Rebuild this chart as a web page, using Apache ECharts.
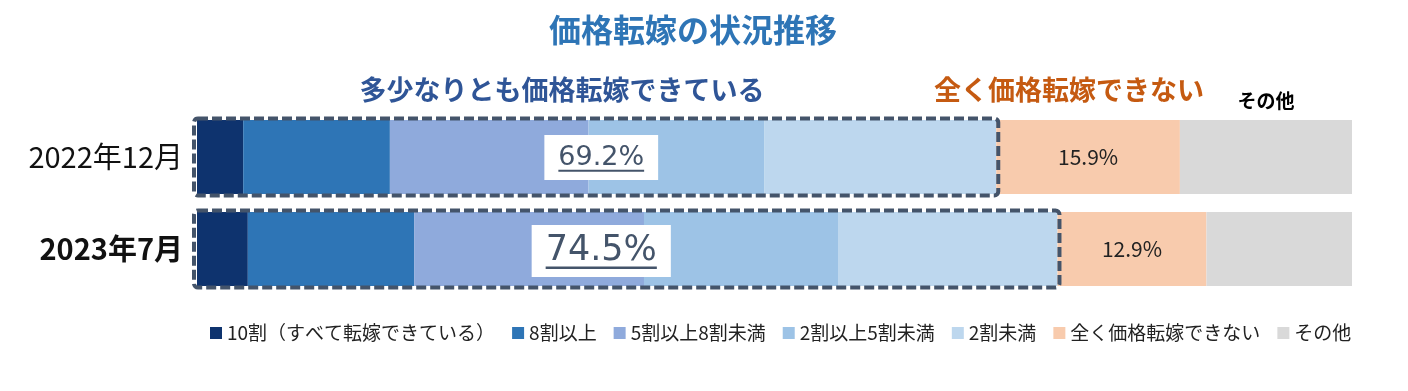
<!DOCTYPE html>
<html><head><meta charset="utf-8">
<script src="https://cdn.jsdelivr.net/npm/echarts@6/dist/echarts.min.js"></script>
<style>html,body{margin:0;padding:0;background:#fff}#c{width:1408px;height:391px}</style>
</head><body><div id="c"></div>
<script>
const categories = ['2022年12月', '2023年7月'];
const seriesNames = ['10割（すべて転嫁できている）', '8割以上', '5割以上8割未満', '2割以上5割未満', '2割未満', '全く価格転嫁できない', 'その他'];
const s10wari = [4.0, 4.4];
const s8over = [12.7, 14.4];
const s5to8 = [17.2, 19.9];
const s2to5 = [15.2, 16.8];
const sUnder2 = [20.1, 19.0];
const sNone = [15.9, 12.9];
const sOther = [14.9, 12.6];
const passedTotals = [69.2, 74.5];

const colors = ['#0e336e', '#2e75b6', '#8faadc', '#9dc3e6', '#bdd7ee', '#f8cbad', '#d9d9d9'];
const FONT = '"Noto Sans CJK JP", "Noto Sans", sans-serif';
const NUMFONT = '"DejaVu Sans", "Noto Sans", sans-serif';
const allData = [s10wari, s8over, s5to8, s2to5, sUnder2, sNone, sOther];

function measure(text, font) {
  if (!measure.ctx) measure.ctx = document.createElement('canvas').getContext('2d');
  measure.ctx.font = font;
  return measure.ctx.measureText(text).width;
}

const chart = echarts.init(document.getElementById('c'), null, { renderer: 'canvas' });

const barSeries = seriesNames.map((name, i) => ({
  name: name,
  type: 'bar',
  stack: 'total',
  barWidth: 74,
  data: allData[i],
  itemStyle: { color: colors[i] },
  emphasis: { disabled: true },
  label: i === 5 ? {
    show: true, position: 'inside', formatter: '{c}%',
    color: '#222', fontSize: 21, fontFamily: FONT
  } : { show: false }
}));

const boxSeries = {
  type: 'custom',
  name: 'box',
  z: 10,
  clip: false,
  silent: true,
  encode: { x: 0, y: 1 },
  data: categories.map((c, i) => [passedTotals[i], i]),
  renderItem: function (params, api) {
    const total = api.value(0);
    const idx = api.value(1);
    const p0 = api.coord([0, idx]);
    const p1 = api.coord([total, idx]);
    const cy = p0[1];
    const boxH = 77;
    const fs = idx === 0 ? 27 : 35;
    const font = 'normal ' + fs + 'px ' + NUMFONT;
    const txt = passedTotals[idx].toFixed(1) + '%';
    const tw = measure(txt, font);
    const lc = api.coord([35, idx])[0];
    const lw = tw + 28, lh = idx === 0 ? 45 : 52;
    const ly = cy + (idx === 0 ? 0.5 : 2);
    const ul = ly + fs * 0.45 + 1;
    return {
      type: 'group',
      children: [
        { type: 'rect', shape: { x: p0[0] - 3, y: cy - boxH / 2, width: p1[0] - p0[0] + 5, height: boxH, r: 4 },
          style: { fill: 'none', stroke: '#44546a', lineWidth: 4, lineDash: [10, 4] } },
        { type: 'rect', shape: { x: lc - lw / 2, y: ly - lh / 2, width: lw, height: lh },
          style: { fill: '#ffffff' } },
        { type: 'text', x: lc, y: ly,
          style: { text: txt, font: font, fill: '#44546a', align: 'center', verticalAlign: 'middle' } },
        { type: 'line', shape: { x1: lc - tw / 2, y1: ul, x2: lc + tw / 2, y2: ul },
          style: { stroke: '#44546a', lineWidth: idx === 0 ? 2 : 2.5 } }
      ]
    };
  }
};

chart.setOption({
  animation: false,
  backgroundColor: '#fff',
  grid: { left: 197, right: 56, top: 111, height: 184 },
  xAxis: { type: 'value', min: 0, max: 100, show: false },
  yAxis: {
    type: 'category', data: categories, inverse: true,
    axisLine: { show: false }, axisTick: { show: false },
    axisLabel: {
      margin: 14,
      formatter: (v, i) => (i === 1 ? '{b|' + v + '}' : '{n|' + v + '}'),
      rich: {
        n: { fontSize: 29, fontFamily: FONT, color: '#111', fontWeight: 'normal' },
        b: { fontSize: 29, fontFamily: FONT, color: '#111', fontWeight: 'bold' }
      }
    }
  },
  legend: {
    data: seriesNames,
    left: 205, top: 317,
    itemWidth: 12, itemHeight: 12, itemGap: 17,
    icon: 'rect',
    selectedMode: false,
    textStyle: { fontSize: 19, fontFamily: FONT, color: '#222', lineHeight: 22 }
  },
  graphic: [
    { type: 'text', x: 693, y: 30, style: { text: '価格転嫁の状況推移', font: 'bold 32px ' + FONT, fill: '#2e75b6', align: 'center', verticalAlign: 'middle' } },
    { type: 'text', x: 562, y: 90, style: { text: '多少なりとも価格転嫁できている', font: 'bold 27px ' + FONT, fill: '#2f5597', align: 'center', verticalAlign: 'middle' } },
    { type: 'text', x: 1069, y: 90, style: { text: '全く価格転嫁できない', font: 'bold 27px ' + FONT, fill: '#c55a11', align: 'center', verticalAlign: 'middle' } },
    { type: 'text', x: 1266, y: 101, style: { text: 'その他', font: 'bold 19px ' + FONT, fill: '#000', align: 'center', verticalAlign: 'middle' } }
  ],
  series: barSeries.concat([boxSeries])
});
</script>
</body></html>
